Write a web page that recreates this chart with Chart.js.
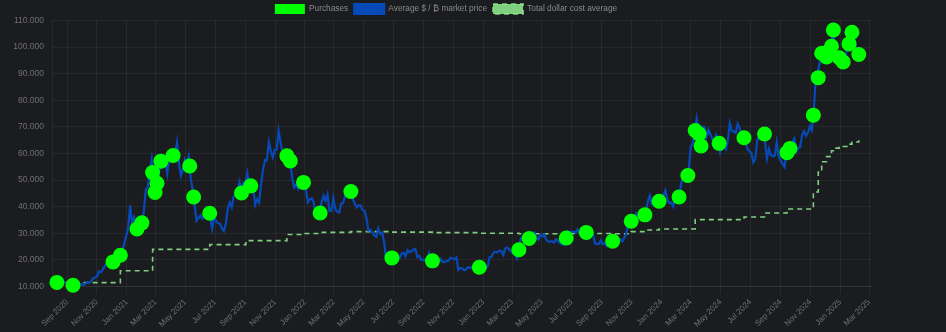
<!DOCTYPE html>
<html>
<head>
<meta charset="utf-8">
<title>DCA</title>
<script src="https://cdn.jsdelivr.net/npm/chart.js@4.4.1/dist/chart.umd.min.js"></script>
<style>
    html, body { margin: 0; padding: 0; background: #1b1c1f; }
    #wrap { width: 946px; height: 332px; position: relative; }
</style>
</head>
<body>
<div id="wrap"><canvas id="dca"></canvas></div>
<script>
// all prices in thousands of dollars
const xTickLabels = [
    'Sep 2020', 'Nov 2020', 'Jan 2021', 'Mar 2021', 'May 2021', 'Jul 2021', 'Sep 2021',
    'Nov 2021', 'Jan 2022', 'Mar 2022', 'May 2022', 'Jul 2022', 'Sep 2022', 'Nov 2022',
    'Jan 2023', 'Mar 2023', 'May 2023', 'Jul 2023', 'Sep 2023', 'Nov 2023', 'Jan 2024',
    'Mar 2024', 'May 2024', 'Jul 2024', 'Sep 2024', 'Nov 2024', 'Jan 2025', 'Mar 2025'
];

// market price, one value every 4 days starting 2020-08-09 (rows of 32 days)
const priceStart = '2020-08-09';
const priceStepDays = 4;
const prices = [
    11.7, 11.6, 12.0, 11.5, 11.3, 11.6, 11.4, 10.3,   // 2020-08-09
    10.3, 10.6, 10.9, 10.5, 10.7, 10.8, 10.6, 10.9,   // 2020-09-10
    11.5, 11.3, 11.9, 13.0, 13.3, 13.7, 15.6, 15.3,   // 2020-10-12
    16.3, 17.7, 18.7, 18.7, 18.2, 19.4, 19.2, 18.1,   // 2020-11-13
    19.4, 22.0, 23.2, 26.3, 29.0, 31.9, 40.5, 34.0,   // 2020-12-15
    36.0, 31.5, 32.3, 34.2, 33.6, 38.2, 46.4, 47.4,   // 2021-01-16
    52.2, 57.5, 47.0, 45.5, 49.0, 54.0, 59.0, 58.8,   // 2021-02-17
    57.4, 52.4, 58.8, 59.0, 58.8, 60.0, 64.3, 56.4,   // 2021-03-21
    51.7, 54.0, 57.7, 56.0, 58.9, 50.5, 46.4, 40.6,   // 2021-04-22
    34.7, 35.7, 36.7, 35.5, 37.3, 39.1, 38.1, 36.0,   // 2021-05-24
    31.6, 36.0, 34.7, 33.8, 33.5, 31.8, 30.8, 33.6,   // 2021-06-25
    39.4, 41.5, 39.7, 43.8, 44.4, 46.0, 49.3, 46.0,   // 2021-07-27
    49.0, 48.8, 52.5, 46.4, 47.6, 47.3, 40.7, 42.8,   // 2021-08-28
    41.6, 48.2, 53.8, 57.5, 57.4, 64.3, 61.0, 58.5,   // 2021-09-29
    61.3, 61.4, 68.5, 64.2, 60.4, 59.7, 57.6, 59.5,   // 2021-10-31
    56.5, 50.6, 47.2, 48.4, 46.7, 48.6, 50.8, 47.1,   // 2021-12-02
    46.4, 41.6, 42.7, 43.1, 41.7, 36.3, 37.2, 38.5,   // 2022-01-03
    41.6, 44.1, 42.2, 44.6, 38.4, 38.3, 43.2, 39.1,   // 2022-02-04
    38.1, 37.8, 41.1, 41.3, 44.0, 47.1, 46.3, 45.5,   // 2022-03-08
    42.8, 41.2, 39.7, 40.5, 40.4, 38.6, 38.5, 35.5,   // 2022-04-09
    31.0, 31.3, 30.3, 29.1, 28.6, 31.8, 29.7, 30.3,   // 2022-05-11
    26.7, 20.4, 18.9, 21.2, 20.3, 19.3, 20.6, 20.9,   // 2022-06-12
    20.6, 22.4, 22.6, 21.3, 23.6, 22.8, 23.2, 23.9,   // 2022-07-14
    24.1, 21.1, 21.5, 20.0, 20.0, 19.9, 19.3, 22.4,   // 2022-08-15
    19.7, 18.9, 18.9, 19.4, 19.3, 20.3, 19.1, 19.2,   // 2022-09-16
    19.5, 19.6, 20.8, 20.6, 20.2, 20.9, 16.2, 16.9,   // 2022-10-18
    16.7, 16.0, 16.5, 17.2, 17.0, 17.2, 17.8, 16.8,   // 2022-11-19
    16.8, 16.8, 16.6, 16.7, 16.9, 17.4, 20.9, 21.1,   // 2022-12-21
    22.7, 23.0, 22.8, 23.4, 23.2, 21.8, 24.3, 24.6,   // 2023-01-22
    23.9, 23.2, 22.4, 22.2, 20.6, 24.4, 28.0, 28.4,   // 2023-02-23
    27.1, 28.5, 28.2, 28.0, 30.1, 30.3, 28.2, 27.6,   // 2023-03-27
    29.5, 28.7, 29.5, 27.6, 26.9, 26.8, 26.9, 26.5,   // 2023-04-28
    27.7, 27.2, 26.3, 25.9, 25.6, 27.6, 30.7, 30.3,   // 2023-05-30
    30.6, 30.5, 30.3, 31.4, 29.9, 29.9, 29.2, 29.3,   // 2023-07-01
    29.7, 29.0, 29.4, 29.4, 26.1, 26.0, 26.0, 27.3,   // 2023-08-02
    25.9, 26.2, 25.2, 26.6, 27.1, 26.6, 26.2, 27.9,   // 2023-09-03
    27.8, 27.6, 26.9, 28.4, 29.9, 34.5, 34.6, 35.4,   // 2023-10-05
    35.0, 37.3, 35.5, 36.6, 37.4, 37.4, 37.7, 41.9,   // 2023-11-06
    44.2, 41.2, 42.3, 43.7, 43.0, 42.6, 44.2, 44.2,   // 2023-12-08
    46.1, 42.8, 41.3, 41.6, 40.0, 43.3, 43.2, 43.1,   // 2024-01-09
    48.3, 51.8, 52.1, 51.3, 54.5, 62.4, 63.8, 68.3,   // 2024-02-10
    73.1, 68.4, 63.5, 70.0, 69.9, 66.0, 68.9, 67.2,   // 2024-03-13
    65.7, 63.5, 66.8, 64.5, 60.6, 63.2, 62.3, 61.5,   // 2024-04-14
    65.2, 71.4, 68.5, 68.3, 67.7, 71.1, 69.6, 66.8,   // 2024-05-16
    66.5, 64.1, 61.8, 60.8, 60.2, 56.6, 57.9, 64.8,   // 2024-06-17
    66.7, 65.9, 68.0, 64.6, 58.1, 61.7, 59.4, 58.9,   // 2024-07-19
    59.1, 64.2, 59.0, 57.3, 56.2, 54.9, 60.5, 60.3,   // 2024-08-20
    63.2, 64.1, 65.6, 60.6, 62.1, 62.4, 67.0, 68.4,   // 2024-09-21
    66.6, 67.9, 70.2, 68.8, 76.5, 88.7, 90.6, 94.3,   // 2024-10-23
    97.7, 95.6, 95.8, 99.9, 96.9, 101.4, 106.2, 95.1, // 2024-11-24
    95.8, 95.0, 96.9, 95.0, 94.5, 100.5, 101.2, 106.0, // 2024-12-26
    102.1, 102.4, 98.1, 96.6                           // 2025-01-27
];

const purchaseDates = [
    '2020-08-11', '2020-09-13', '2020-12-04', '2020-12-19', '2021-01-22', '2021-02-01',
    '2021-02-23', '2021-02-28', '2021-03-04', '2021-03-12', '2021-04-06', '2021-05-10',
    '2021-05-18', '2021-06-20', '2021-08-24', '2021-09-12', '2021-11-25', '2021-12-02',
    '2021-12-29', '2022-02-01', '2022-04-05', '2022-06-28', '2022-09-19', '2022-12-24',
    '2023-03-15', '2023-04-05', '2023-06-20', '2023-07-31', '2023-09-23', '2023-10-31',
    '2023-11-28', '2023-12-27', '2024-02-06', '2024-02-24', '2024-03-10', '2024-03-18',
    '2024-03-22', '2024-04-28', '2024-06-18', '2024-07-30', '2024-09-14', '2024-09-20',
    '2024-11-07', '2024-11-17', '2024-11-24', '2024-12-04', '2024-12-14', '2024-12-18',
    '2024-12-30', '2025-01-07', '2025-01-19', '2025-01-25', '2025-02-08'
];
const purchasePrices = [
    11.5, 10.4, 19.2, 21.7, 31.6, 33.9,
    52.8, 45.3, 48.8, 57.1, 59.2, 55.3,
    43.6, 37.5, 45.1, 47.8, 59.1, 57.2,
    49.1, 37.6, 45.7, 20.7, 19.6, 17.2,
    23.8, 28.0, 28.2, 30.3, 27.0, 34.5,
    36.9, 42.0, 43.6, 51.7, 68.6, 67.3,
    62.8, 63.8, 65.9, 67.3, 60.3, 61.9,
    74.4, 88.5, 97.7, 96.3, 100.3, 106.4,
    96.0, 94.4, 101.2, 105.6, 97.2
];

// running average cost, only the dates where it moves
const avgDates = [
    '2020-08-11', '2020-09-13', '2020-12-19', '2021-02-23', '2021-06-20', '2021-09-02',
    '2021-11-25', '2021-12-29', '2022-02-01', '2022-04-05', '2022-06-28', '2022-09-19',
    '2022-12-24', '2023-03-15', '2023-06-20', '2023-09-23', '2023-10-31', '2023-11-28',
    '2023-12-27', '2024-03-10', '2024-06-18', '2024-07-30', '2024-09-14', '2024-11-07',
    '2024-11-17', '2024-11-24', '2024-12-04', '2024-12-14', '2024-12-18', '2024-12-30',
    '2025-01-07', '2025-01-19', '2025-01-25', '2025-02-08'
];
const avgCosts = [
    11.5, 11.4, 15.9, 23.9, 25.7, 27.2,
    29.5, 29.9, 30.3, 30.6, 30.4, 30.2,
    30.0, 29.8, 29.9, 29.8, 30.6, 31.2,
    31.6, 35.1, 36.1, 37.6, 39.1, 45.5,
    53.0, 56.9, 58.8, 61.0, 62.0, 62.3,
    62.6, 63.5, 64.3, 65.0
];

const MONTHS = ['Jan', 'Feb', 'Mar', 'Apr', 'May', 'Jun', 'Jul', 'Aug', 'Sep', 'Oct', 'Nov', 'Dec'];
const DAY_MS = 86400000;
const origin = Date.UTC(2020, 7, 1);

function toDay(iso) {
    const p = iso.split('-').map(Number);
    return (Date.UTC(p[0], p[1] - 1, p[2]) - origin) / DAY_MS;
}

function monthStart(label) {
    const p = label.split(' ');
    return (Date.UTC(Number(p[1]), MONTHS.indexOf(p[0]), 1) - origin) / DAY_MS;
}

function dotted(v) {
    return String(Math.round(v)).replace(/\B(?=(\d{3})+(?!\d))/g, '.');
}

const tickDays = xTickLabels.map(monthStart);
const firstPriceDay = toDay(priceStart);

const priceSeries = prices.map(function (v, i) {
    return { x: firstPriceDay + i * priceStepDays, y: v * 1000 };
});
const purchaseSeries = purchaseDates.map(function (d, i) {
    return { x: toDay(d), y: purchasePrices[i] * 1000 };
});
const avgSeries = avgDates.map(function (d, i) {
    return { x: toDay(d), y: avgCosts[i] * 1000 };
});

const gridColor = 'rgba(255, 255, 255, 0.055)';
const tickColor = '#707070';

// nudge the legend row a little to the right of the centred position
const legendNudge = {
    id: 'legendNudge',
    afterLayout: function (c) {
        c.legend.left += 4.5;
        c.legend.right += 4.5;
    }
};

const chart = new Chart(document.getElementById('dca').getContext('2d'), {
    type: 'line',
    plugins: [legendNudge],
    data: {
        datasets: [
            {
                label: 'Purchases',
                data: purchaseSeries,
                showLine: false,
                clip: false,
                pointRadius: 7.5,
                pointHoverRadius: 7.5,
                pointBorderWidth: 0,
                borderWidth: 0,
                backgroundColor: '#00ff00',
                borderColor: '#00ff00'
            },
            {
                label: 'Average $ / \u20bf market price',
                data: priceSeries,
                borderColor: '#0649b8',
                backgroundColor: '#0649b8',
                borderWidth: 2.2,
                pointRadius: 0,
                tension: 0
            },
            {
                label: 'Total dollar cost average',
                data: avgSeries,
                stepped: true,
                borderColor: 'rgba(144, 238, 144, 0.85)',
                backgroundColor: 'rgba(144, 238, 144, 0.85)',
                borderDash: [5, 4],
                borderWidth: 1.6,
                pointRadius: 0
            }
        ]
    },
    options: {
        responsive: true,
        maintainAspectRatio: false,
        animation: false,
        layout: {
            padding: { left: 12, right: 75, top: -2, bottom: 0 }
        },
        plugins: {
            legend: {
                position: 'top',
                labels: {
                    color: '#8a8a8a',
                    font: { size: 8.3 },
                    boxWidth: 30,
                    boxHeight: 10,
                    padding: 6
                }
            },
            tooltip: { enabled: false }
        },
        scales: {
            x: {
                type: 'linear',
                min: 0,
                max: toDay('2025-03-05'),
                afterBuildTicks: function (axis) {
                    axis.ticks = tickDays.map(function (d) { return { value: d }; });
                },
                ticks: {
                    color: tickColor,
                    font: { size: 8 },
                    padding: 3,
                    autoSkip: false,
                    minRotation: 45,
                    maxRotation: 45,
                    callback: function (value, index) {
                        return xTickLabels[index];
                    }
                },
                grid: { color: gridColor },
                border: { color: gridColor }
            },
            y: {
                min: 10000,
                max: 110000,
                afterFit: function (axis) {
                    axis.width = 40;
                },
                ticks: {
                    stepSize: 10000,
                    color: tickColor,
                    font: { size: 8.5 },
                    padding: 8,
                    callback: function (value) {
                        return dotted(value);
                    }
                },
                grid: { color: gridColor, drawTicks: false },
                border: { color: gridColor }
            }
        }
    }
});

// keep the legend strip tight above the plot
const legendFit = chart.legend.fit;
chart.legend.fit = function () {
    legendFit.call(this);
    this.height = 22.5;
};
chart.update();
</script>
</body>
</html>
